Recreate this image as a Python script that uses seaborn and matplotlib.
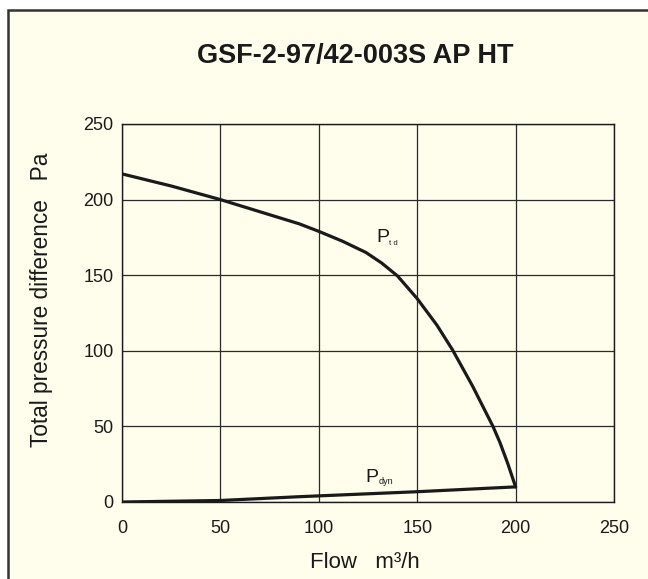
import matplotlib
matplotlib.use("Agg")
import matplotlib.pyplot as plt
import matplotlib.patches as mpatches
import seaborn as sns
import pandas as pd

# ---- data ----
flow_td = [0, 25, 50, 75, 90, 100, 112, 124, 132, 140, 150, 160, 168, 178, 188.5, 192, 196, 200]
p_td = [217, 209, 200, 190, 184, 179, 172.5, 165, 158, 149.5, 134.5, 117, 100.5, 77, 50, 39.5, 25.5, 10]
flow_dyn = [0, 50, 90, 150, 200]
p_dyn = [0, 1, 3.5, 6.8, 10]
x_ticks = [0, 50, 100, 150, 200, 250]
y_ticks = [0, 50, 100, 150, 200, 250]
title = "GSF-2-97/42-003S AP HT"
xlabel = "Flow   m³/h"
ylabel = "Total pressure difference   Pa"

df = pd.concat([
    pd.DataFrame({"flow": flow_td, "p": p_td, "curve": "td"}),
    pd.DataFrame({"flow": flow_dyn, "p": p_dyn, "curve": "dyn"}),
])

sns.set_style("white")
plt.rcParams["font.family"] = ["Liberation Sans", "DejaVu Sans"]

bg = "#FFFDEB"
W, H = 648, 579
fig = plt.figure(figsize=(W / 100, H / 100), dpi=100)
fig.patch.set_facecolor("white")
frame = mpatches.Rectangle((8 / W, -0.05), 1.1, (H - 10) / H + 0.05,
                           transform=fig.transFigure, facecolor=bg,
                           edgecolor="#333333", linewidth=1.8, zorder=0)
fig.add_artist(frame)

ax = fig.add_axes([122 / W, 1 - 502 / H, (614 - 122) / W, (502 - 124) / H])
ax.set_facecolor(bg)

sns.lineplot(data=df, x="flow", y="p", units="curve", estimator=None,
             color="#1a1a1a", linewidth=2.3, sort=False, ax=ax, legend=False)

ax.set_xlim(0, 250)
ax.set_ylim(0, 250)
ax.set_xticks(x_ticks)
ax.set_yticks(y_ticks)
ax.grid(True, color="#2a2a2a", linewidth=0.9)
ax.set_axisbelow(True)
for s in ax.spines.values():
    s.set_color("#1a1a1a")
    s.set_linewidth(1.0)
ax.tick_params(axis="x", length=0, pad=13, labelsize=13, colors="#1a1a1a")
ax.tick_params(axis="y", length=0, pad=6, labelsize=13, colors="#1a1a1a")

ax.set_xlabel(xlabel, fontsize=16, color="#1a1a1a")
ax.set_ylabel(ylabel, fontsize=16.3, color="#1a1a1a")
ax.xaxis.set_label_coords((365 - 122) / (614 - 122), -(562 - 502) / (502 - 124), transform=ax.transAxes)
ax.yaxis.set_label_coords(-(122 - 42) / (614 - 122), (502 - 300) / (502 - 124), transform=ax.transAxes)
ax.xaxis.label.set_va("center")
ax.yaxis.label.set_va("center")

# curve labels
ax.text(129.3, 171.7, "P", fontsize=14, color="#1a1a1a", va="baseline", ha="left")
ax.text(135.8, 169.8, "t d", fontsize=5.5, color="#1a1a1a", va="baseline", ha="left")
ax.text(123.9, 13.4, "P", fontsize=14, color="#1a1a1a", va="baseline", ha="left")
ax.text(130.3, 12.0, "dyn", fontsize=6.5, color="#1a1a1a", va="baseline", ha="left")

fig.text(355 / W, 1 - 56 / H, title, fontsize=19.5, fontweight="bold",
         ha="center", va="center", color="#1a1a1a")

fig.savefig("out.png", dpi=100, facecolor=fig.get_facecolor())
